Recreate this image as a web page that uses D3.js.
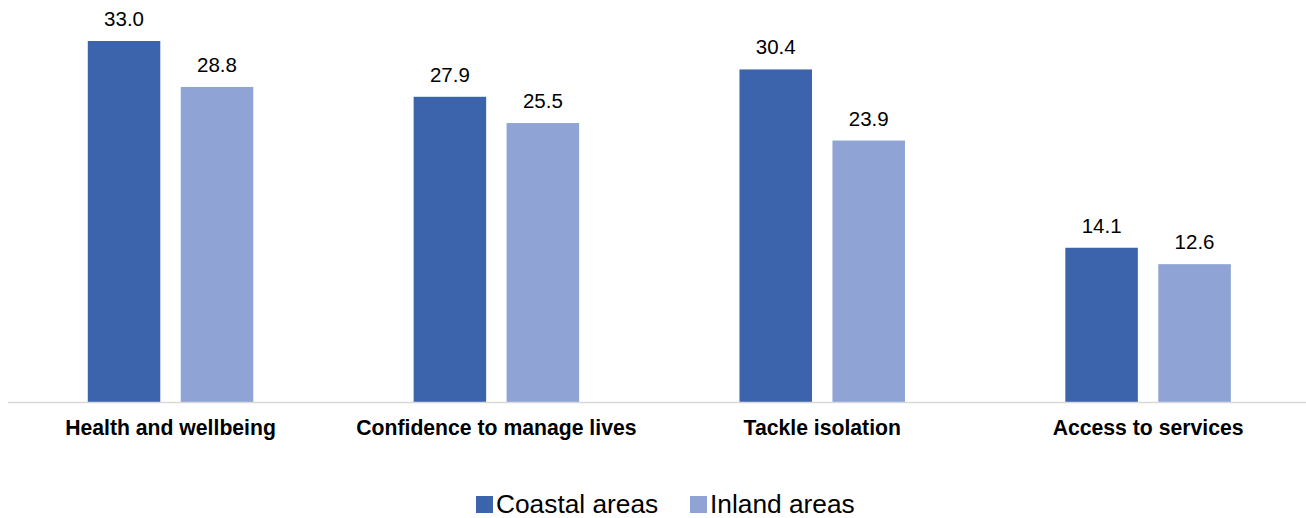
<!DOCTYPE html>
<html>
<head>
<meta charset="utf-8">
<script src="https://cdn.jsdelivr.net/npm/d3@7"></script>
<style>
  body { margin: 0; background: #fff; }
  svg { display: block; font-family: "Liberation Sans", Arial, sans-serif; }
</style>
</head>
<body>
<div id="chart"></div>
<script>
// data
var categories = ["Health and wellbeing", "Confidence to manage lives", "Tackle isolation", "Access to services"];
var series = ["Coastal areas", "Inland areas"];
var coastal = [33.0, 27.9, 30.4, 14.1];
var inland = [28.8, 25.5, 23.9, 12.6];
var colors = ["#3c64ad", "#8fa4d4"];

var width = 1306, height = 518;
var values = [coastal, inland];

var svg = d3.select("#chart").append("svg")
    .attr("width", width)
    .attr("height", height);

var x0 = d3.scaleBand()
    .domain(categories)
    .range([7.6, 1311]);

var x1 = d3.scaleBand()
    .domain(series)
    .range([-82.75, 82.75])
    .paddingInner(0.22);

var y = d3.scaleLinear()
    .domain([0, 33])
    .range([402, 41]);

// groups per category
var groups = svg.selectAll(".cat")
    .data(categories)
    .enter().append("g")
    .attr("class", "cat")
    .attr("transform", function(d) { return "translate(" + (x0(d) + x0.bandwidth() / 2) + ",0)"; });

series.forEach(function(s, si) {
  groups.append("rect")
      .attr("x", x1(s))
      .attr("width", x1.bandwidth())
      .attr("y", function(d, i) { return y(values[si][i]); })
      .attr("height", function(d, i) { return y(0) - y(values[si][i]); })
      .attr("fill", colors[si]);

  groups.append("text")
      .attr("x", x1(s) + x1.bandwidth() / 2)
      .attr("y", function(d, i) { return y(values[si][i]) - 15; })
      .attr("text-anchor", "middle")
      .attr("font-size", 20.5)
      .attr("fill", "#000")
      .text(function(d, i) { return values[si][i].toFixed(1); });
});

// baseline
svg.append("line")
    .attr("x1", 8).attr("x2", width)
    .attr("y1", y(0) + 0.5).attr("y2", y(0) + 0.5)
    .attr("stroke", "#d9d9d9")
    .attr("stroke-width", 1.5);

// category labels
var xAxis = d3.axisBottom(x0).tickSize(0).tickPadding(0);
var axisG = svg.append("g")
    .attr("transform", "translate(0," + 435 + ")")
    .call(xAxis);
axisG.select(".domain").remove();
axisG.selectAll("text")
    .attr("dy", 0)
    .attr("font-size", 21.2)
    .attr("font-weight", "bold")
    .attr("fill", "#000")
    .attr("font-family", "'Liberation Sans', Arial, sans-serif");

// legend
var legendX = [476, 690];
var legend = svg.selectAll(".legend")
    .data(series)
    .enter().append("g")
    .attr("class", "legend")
    .attr("transform", function(d, i) { return "translate(" + legendX[i] + ",0)"; });

legend.append("rect")
    .attr("x", 0).attr("y", 496)
    .attr("width", 17).attr("height", 17)
    .attr("fill", function(d, i) { return colors[i]; });

legend.append("text")
    .attr("x", 20).attr("y", 513)
    .attr("font-size", 26.3)
    .attr("fill", "#000")
    .text(function(d) { return d; });
</script>
</body>
</html>
